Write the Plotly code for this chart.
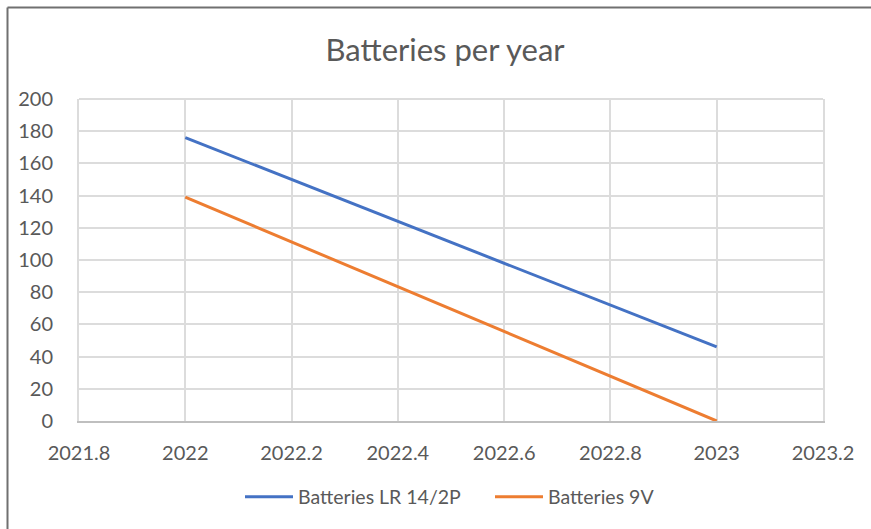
import plotly.graph_objects as go

years = [2022, 2023]
lr14 = [176, 46]
v9 = [139, 0]
series_names = ["Batteries LR 14/2P", "Batteries 9V"]
x_ticks = [2021.8, 2022.0, 2022.2, 2022.4, 2022.6, 2022.8, 2023.0, 2023.2]
x_tick_labels = ["2021.8", "2022", "2022.2", "2022.4", "2022.6", "2022.8", "2023", "2023.2"]
y_ticks = list(range(0, 201, 20))

W, H = 871, 529
L, R, T, B = 79, 48, 99, 108
pw, ph = W - L - R, H - T - B

def px_to_paper_x(px):
    return (px - L) / pw

def px_to_paper_y(py):
    return (H - B - py) / ph

FONT = "Lato, 'Open Sans', sans-serif"
GRAY = "#595959"

fig = go.Figure()
fig.add_trace(go.Scatter(x=years, y=lr14, mode="lines", name=series_names[0],
                         line=dict(color="#4472C4", width=3)))
fig.add_trace(go.Scatter(x=years, y=v9, mode="lines", name=series_names[1],
                         line=dict(color="#ED7D31", width=3)))

fig.update_layout(
    width=W, height=H,
    margin=dict(l=L, r=R, t=T, b=B, autoexpand=False),
    paper_bgcolor="white", plot_bgcolor="white",
    font=dict(family=FONT, color=GRAY, size=20),
    title=dict(text="Batteries per year", x=0.511, xanchor="center",
               y=1 - 50 / H, yanchor="middle",
               font=dict(size=31, color=GRAY, family=FONT)),
    showlegend=True,
    legend=dict(orientation="h", x=px_to_paper_x(240), xanchor="left",
                y=px_to_paper_y(497), yanchor="middle",
                font=dict(size=19.5, color=GRAY), itemwidth=48,
                entrywidth=187, entrywidthmode="pixels",
                tracegroupgap=0),
    xaxis=dict(range=[2021.8, 2023.2], tickvals=x_ticks, ticktext=x_tick_labels,
               showgrid=True, gridcolor="#dcdcdc", gridwidth=2,
               showline=True, linecolor="#bfbfbf", linewidth=2,
               zeroline=False, ticks="", ticklabelstandoff=13,
               tickfont=dict(size=20, color=GRAY)),
    yaxis=dict(range=[0, 200], tickvals=y_ticks,
               showgrid=True, gridcolor="#dcdcdc", gridwidth=2,
               showline=True, linecolor="#dcdcdc", linewidth=2, mirror=True,
               zeroline=False, ticks="", ticklabelstandoff=20,
               tickfont=dict(size=20, color=GRAY)),
    shapes=[
        dict(type="line", xref="paper", yref="paper",
             x0=px_to_paper_x(7.5), x1=px_to_paper_x(W + 5),
             y0=px_to_paper_y(7.5), y1=px_to_paper_y(7.5),
             line=dict(color="#707070", width=2)),
        dict(type="line", xref="paper", yref="paper",
             x0=px_to_paper_x(7.5), x1=px_to_paper_x(7.5),
             y0=px_to_paper_y(7.5), y1=px_to_paper_y(H + 5),
             line=dict(color="#707070", width=2)),
        dict(type="line", xref="paper", yref="paper",
             x0=0, x1=1, y0=1, y1=1,
             line=dict(color="#dcdcdc", width=2), layer="below"),
    ],
)

fig.write_html("out.html")
